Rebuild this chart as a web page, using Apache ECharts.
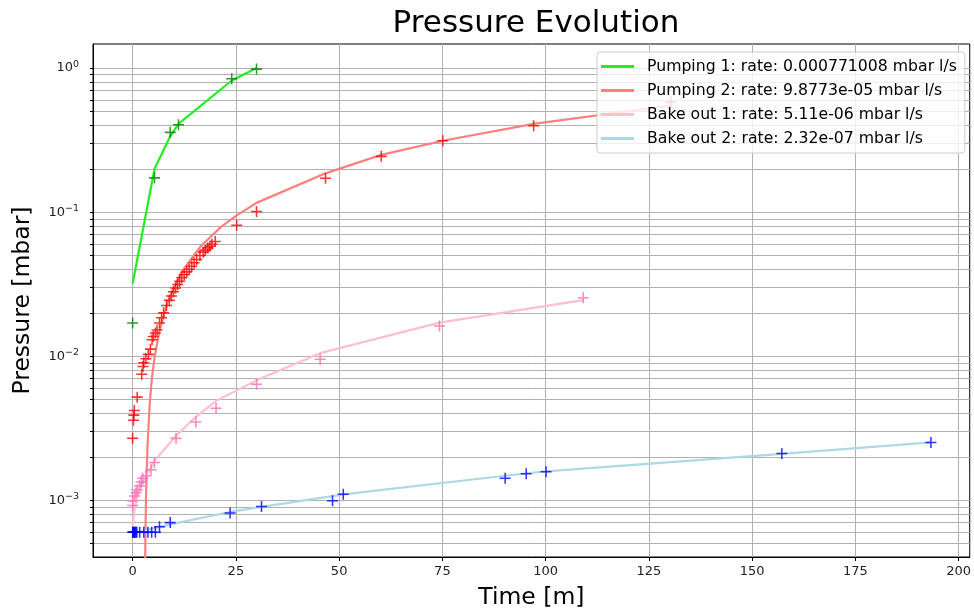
<!doctype html>
<html>
<head>
<meta charset="utf-8">
<title>Pressure Evolution</title>
<script src="https://cdn.jsdelivr.net/npm/echarts@6/dist/echarts.min.js"></script>
<style>
  html, body { margin: 0; padding: 0; background: #fff; }
  #main { width: 974px; height: 615px; }
</style>
</head>
<body>
<div id="main"></div>
<script>
// measured points (time in minutes, pressure in mbar)
var p1Time = [0, 5.3, 9.1, 11.1, 24.0, 30.0];
var p1Pressure = [0.017, 0.173, 0.358, 0.405, 0.843, 0.984];
var p1FitTime = [0, 5.3, 9.1, 11.1, 24.0, 30.0];
var p1FitPressure = [0.032, 0.20, 0.336, 0.41, 0.82, 1.0];

var p2Time = [0, 0.2, 0.3, 0.4, 1.1, 2.2, 2.5, 2.7, 3.2, 3.8, 4.3, 4.7, 5.0, 5.5, 5.9,
  6.5, 7.0, 7.5, 8.2, 8.9, 9.4, 9.9, 10.4, 10.9, 11.4, 11.9, 12.5, 13.1, 13.7, 14.3,
  14.9, 15.5, 16.3, 17.1, 17.6, 18.2, 18.7, 19.2, 20.0, 25.2, 30.0, 46.7, 60.2, 75.1, 97.1, 130.3];
var p2Pressure = [0.0027, 0.0036, 0.0039, 0.0042, 0.0052, 0.0075, 0.0085, 0.0090, 0.0096, 0.0103,
  0.0112, 0.0130, 0.0137, 0.0145, 0.0152, 0.0170, 0.0185, 0.0200, 0.0225, 0.0245,
  0.0262, 0.0280, 0.0298, 0.0315, 0.0332, 0.0350, 0.0368, 0.0385, 0.0402, 0.0422,
  0.0445, 0.0470, 0.0500, 0.0528, 0.0545, 0.0565, 0.0580, 0.0598, 0.0625, 0.081,
  0.101, 0.172, 0.244, 0.313, 0.398, 0.58];
var p2FitTime = [3.0, 3.1, 3.25, 3.6, 4.1, 4.6, 5.3, 6.5, 8.5, 11.7, 16.5, 21.4, 25.2, 30.0, 46.7, 60.2, 75.1, 97.1, 130.3];
var p2FitPressure = [0.0003, 0.0006, 0.0011, 0.0024, 0.0045, 0.0068, 0.0098, 0.015, 0.024, 0.038,
  0.058, 0.079, 0.095, 0.116, 0.186, 0.25, 0.313, 0.41, 0.55];

var p3Time = [0, 0.04, 0.45, 0.8, 1.1, 1.65, 2.05, 2.45, 3.25, 4.46, 5.27, 10.5, 15.3, 20.2, 30.0, 45.4, 74.3, 109.1];
var p3Pressure = [0.00092, 0.00099, 0.00107, 0.00113, 0.00118, 0.00126, 0.00134, 0.00142, 0.00148,
  0.00163, 0.00183, 0.00269, 0.0035, 0.00435, 0.00638, 0.00952, 0.0162, 0.0255];
var p3FitTime = [0, 0.45, 1.1, 2.05, 3.25, 5.27, 10.5, 15.3, 20.2, 30.0, 45.4, 74.3, 109.1];
var p3FitPressure = [0.00067, 0.00085, 0.00105, 0.00125, 0.00145, 0.00188, 0.0028, 0.0038, 0.0049,
  0.0068, 0.0105, 0.0171, 0.0245];

var p4Time = [0, 0.15, 0.3, 0.45, 0.6, 0.8, 1.0, 1.7, 2.7, 3.7, 4.6, 5.5, 6.5, 9.1, 23.6, 31.2,
  48.4, 51.0, 90.2, 95.3, 100.1, 157.2, 193.3];
var p4Pressure = [0.0006, 0.0006, 0.0006, 0.0006, 0.0006, 0.0006, 0.0006, 0.0006, 0.0006, 0.0006,
  0.0006, 0.0006, 0.000655, 0.0007, 0.000815, 0.000907, 0.000993, 0.0011, 0.00142, 0.00153,
  0.00158, 0.00211, 0.00252];
var p4FitTime = [0, 9.1, 23.6, 31.2, 48.4, 51.0, 90.2, 100.1, 157.2, 193.3];
var p4FitPressure = [0.00059, 0.00068, 0.00083, 0.0009, 0.00107, 0.0011, 0.00148, 0.00159, 0.0021, 0.00252];

var fitNames = [
  'Pumping 1: rate: 0.000771008 mbar l/s',
  'Pumping 2: rate: 9.8773e-05 mbar l/s',
  'Bake out 1: rate: 5.11e-06 mbar l/s',
  'Bake out 2: rate: 2.32e-07 mbar l/s'
];
var xTicks = [0, 25, 50, 75, 100, 125, 150, 175, 200];
var yMajorTicks = [0.001, 0.01, 0.1, 1];

var lineColors = ['#22ee22', '#ff7f7f', '#ffc0cb', '#add8e6'];
var markerColors = ['#008000', '#ff0000', '#ff69b4', '#0000ff'];

function pairs(xs, ys) {
  return xs.map(function (x, i) { return [x, ys[i]]; });
}

// log grid: every 1..9 x 10^k inside the visible range
var yAllTicks = [];
[-4, -3, -2, -1, 0].forEach(function (e) {
  for (var m = 1; m <= 9; m++) {
    var v = +(m * Math.pow(10, e)).toPrecision(3);
    if (v > 0.000405 && v < 1.47) yAllTicks.push(v);
  }
});

var plus = 'path://M4.3,0H5.7V4.3H10V5.7H5.7V10H4.3V5.7H0V4.3H4.3Z';
var font = 'DejaVu Sans';

var measured = [pairs(p1Time, p1Pressure), pairs(p2Time, p2Pressure),
  pairs(p3Time, p3Pressure), pairs(p4Time, p4Pressure)];
var fits = [pairs(p1FitTime, p1FitPressure), pairs(p2FitTime, p2FitPressure),
  pairs(p3FitTime, p3FitPressure), pairs(p4FitTime, p4FitPressure)];

var series = [];
fits.forEach(function (d, i) {
  series.push({
    name: fitNames[i],
    type: 'line',
    data: d,
    symbol: 'none',
    showSymbol: false,
    clip: true,
    z: 2,
    color: lineColors[i],
    lineStyle: { color: lineColors[i], width: 2.2 }
  });
});
measured.forEach(function (d, i) {
  series.push({
    name: 'data' + i,
    type: 'scatter',
    data: d,
    symbol: plus,
    symbolSize: 11,
    clip: true,
    z: 3,
    itemStyle: { color: markerColors[i] }
  });
});

var chart = echarts.init(document.getElementById('main'));
chart.setOption({
  animation: false,
  backgroundColor: '#fff',
  textStyle: { fontFamily: font },
  title: {
    text: 'Pressure Evolution',
    left: 531,
    textAlign: 'center',
    top: 3,
    textStyle: { fontFamily: font, fontSize: 31, fontWeight: 'normal', color: '#000' }
  },
  legend: {
    data: fitNames,
    orient: 'vertical',
    left: 597,
    top: 52,
    padding: [6, 8, 6, 4],
    itemGap: 7,
    itemWidth: 33,
    itemHeight: 3,
    icon: 'rect',
    backgroundColor: 'rgba(255,255,255,0.8)',
    borderColor: '#cccccc',
    borderWidth: 1,
    borderRadius: 3,
    textStyle: { fontFamily: font, fontSize: 15.7, color: '#000', padding: [0, 0, 0, 8], lineHeight: 17 }
  },
  grid: {
    left: 93, right: 4, top: 44, bottom: 57,
    show: true, borderColor: '#000', borderWidth: 1, backgroundColor: 'transparent'
  },
  xAxis: {
    type: 'value',
    min: -9.6,
    max: 202.7,
    name: 'Time [m]',
    nameLocation: 'middle',
    nameGap: 29,
    nameTextStyle: { fontFamily: font, fontSize: 23.5, color: '#000' },
    axisLine: { show: true, onZero: false, lineStyle: { color: '#000', width: 1 } },
    axisTick: { show: true, inside: false, length: 4, customValues: xTicks, lineStyle: { color: '#000' } },
    axisLabel: { customValues: xTicks, fontFamily: font, fontSize: 13, color: '#222', margin: 8 },
    splitLine: { show: true, lineStyle: { color: '#b0b0b0', width: 1 } }
  },
  yAxis: {
    type: 'log',
    logBase: 10,
    min: 0.000404,
    max: 1.47,
    name: 'Pressure [mbar]',
    nameLocation: 'middle',
    nameGap: 58,
    nameTextStyle: { fontFamily: font, fontSize: 23.5, color: '#000' },
    axisLine: { show: true, onZero: false, lineStyle: { color: '#000', width: 1 } },
    axisTick: { show: true, inside: false, length: 3, customValues: yAllTicks, lineStyle: { color: '#000' } },
    axisLabel: {
      customValues: yMajorTicks,
      margin: 14,
      formatter: function (v) {
        var e = Math.round(Math.log10(v));
        return '{b|10}{s|' + (e < 0 ? '\u2212' + (-e) : e) + '}';
      },
      rich: {
        b: { fontFamily: font, fontSize: 13, color: '#222' },
        s: { fontFamily: font, fontSize: 9.5, color: '#222', padding: [0, 0, 8, 0] }
      }
    },
    splitLine: { show: true, lineStyle: { color: '#b0b0b0', width: 1 } }
  },
  series: series
});
</script>
</body>
</html>
